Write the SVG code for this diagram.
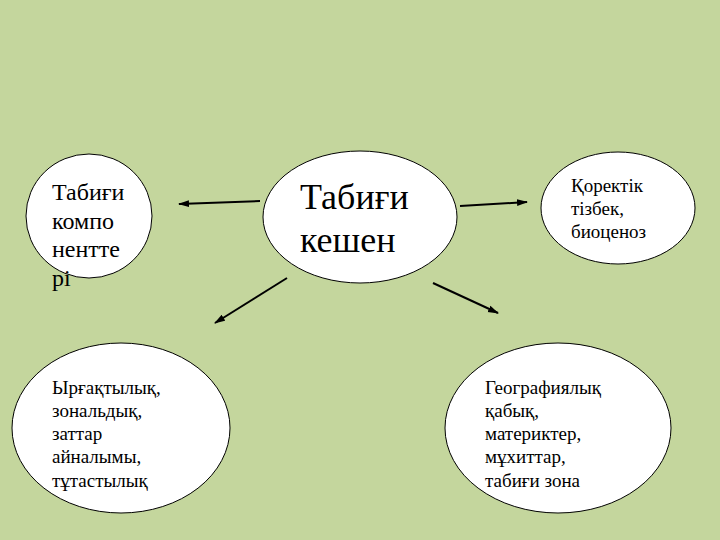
<svg xmlns="http://www.w3.org/2000/svg" width="720" height="540" viewBox="0 0 720 540">
<style>
.node{fill:#ffffff;stroke:#000000;stroke-width:1}
.t{fill:#000000;font-family:'Times New Roman','Liberation Serif',Tinos,'DejaVu Serif','Noto Serif',FreeSerif,serif}
.conn{stroke:#000000;stroke-width:2;fill:none}
</style>
<defs>
<marker id="ah" markerUnits="userSpaceOnUse" markerWidth="11" markerHeight="8" refX="10" refY="4" orient="auto">
<path d="M0,0.5 L11,4 L0,7.5 z" fill="#000000"/>
</marker>
</defs>
<rect x="0" y="0" width="720" height="540" fill="#C4D69D"/>
<g id="connectors">
<line class="conn" x1="260" y1="201" x2="179" y2="204" marker-end="url(#ah)"/>
<line class="conn" x1="460" y1="206" x2="527" y2="202" marker-end="url(#ah)"/>
<line class="conn" x1="287" y1="278" x2="215" y2="323" marker-end="url(#ah)"/>
<line class="conn" x1="433" y1="283" x2="498" y2="313" marker-end="url(#ah)"/>
</g>
<g id="node-components">
<ellipse class="node" cx="89" cy="216" rx="63" ry="62"/>
<text class="t" font-size="24"><tspan x="52" y="200">Табиғи</tspan><tspan x="52" y="229">компо</tspan><tspan x="52" y="257">нентте</tspan><tspan x="52" y="286">рі</tspan></text>
</g>
<g id="node-center">
<ellipse class="node" cx="360" cy="217" rx="97" ry="66"/>
<text class="t" font-size="36"><tspan x="300" y="209">Табиғи</tspan><tspan x="300" y="252">кешен</tspan></text>
</g>
<g id="node-food-chain">
<ellipse class="node" cx="618" cy="208" rx="77" ry="56"/>
<text class="t" font-size="19"><tspan x="571" y="192">Қоректік</tspan><tspan x="571" y="215">тізбек,</tspan><tspan x="571" y="238">биоценоз</tspan></text>
</g>
<g id="node-rhythm">
<ellipse class="node" cx="121" cy="428" rx="109" ry="85"/>
<text class="t" font-size="19"><tspan x="52" y="394">Ырғақтылық,</tspan><tspan x="52" y="417">зональдық,</tspan><tspan x="52" y="440">заттар</tspan><tspan x="52" y="463">айналымы,</tspan><tspan x="52" y="487">тұтастылық</tspan></text>
</g>
<g id="node-geo">
<ellipse class="node" cx="558" cy="428" rx="113" ry="85"/>
<text class="t" font-size="19"><tspan x="485" y="394">Географиялық</tspan><tspan x="485" y="417">қабық,</tspan><tspan x="485" y="440">материктер,</tspan><tspan x="485" y="463">мұхиттар,</tspan><tspan x="485" y="487">табиғи зона</tspan></text>
</g>
</svg>
